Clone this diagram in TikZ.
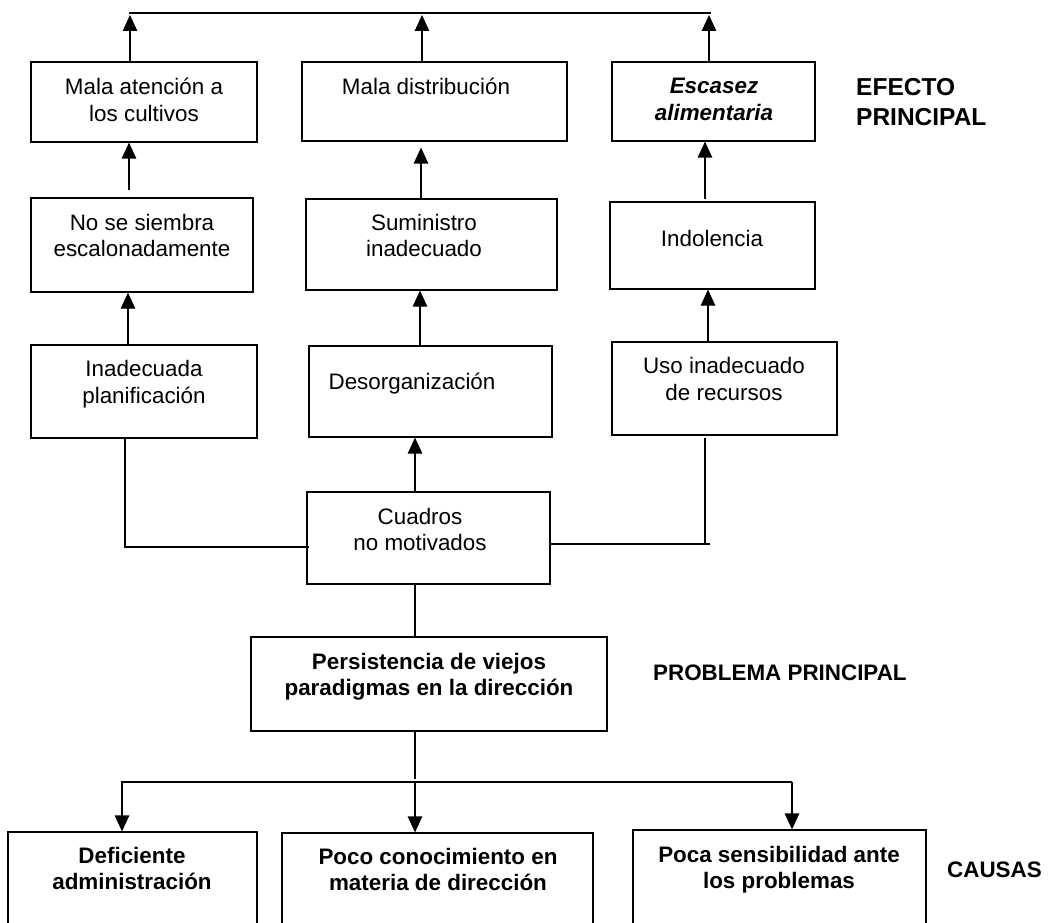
\documentclass[tikz,border=0pt]{standalone}
\usepackage{fontspec}
\setmainfont{Liberation Sans}
\usetikzlibrary{arrows.meta}
\begin{document}
\begin{tikzpicture}[x=1pt,y=-1pt,
  box/.style={draw, line width=1.2pt, rectangle, inner sep=0pt},
  txt/.style={anchor=north, align=center, inner sep=0pt, font=\fontsize{22.4}{26.5}\selectfont},
  lbl/.style={inner sep=0pt, font=\fontsize{22.4}{26.5}\selectfont\bfseries},
  conn/.style={line width=1.2pt},
  arr/.style={conn, -{Triangle[width=14.5pt,length=16pt]}}
]
\clip (0,0) rectangle (1063,923);
\useasboundingbox (0,0) rectangle (1063,923);

% boxes
\node[box, minimum width=226pt, minimum height=80pt] (A1) at (144,102) {};
\node[box, minimum width=222pt, minimum height=94pt] (A2) at (142,245) {};
\node[box, minimum width=226pt, minimum height=93pt] (A3) at (144,391.5) {};
\node[box, minimum width=265pt, minimum height=79pt] (B1) at (434.5,101.5) {};
\node[box, minimum width=251pt, minimum height=91pt] (B2) at (431.5,244.5) {};
\node[box, minimum width=243pt, minimum height=91pt] (B3) at (430.5,391.5) {};
\node[box, minimum width=203pt, minimum height=79pt] (C1) at (713.5,101.5) {};
\node[box, minimum width=205pt, minimum height=87pt] (C2) at (712.5,245.5) {};
\node[box, minimum width=225pt, minimum height=93pt] (C3) at (724.5,388.5) {};
\node[box, minimum width=243pt, minimum height=92pt] (D) at (428.5,538) {};
\node[box, minimum width=356pt, minimum height=94pt] (P) at (429,684) {};
\node[box, minimum width=249pt, minimum height=130pt] (E1) at (132.5,897) {};
\node[box, minimum width=311pt, minimum height=130pt] (E2) at (437.5,898) {};
\node[box, minimum width=293pt, minimum height=130pt] (E3) at (779.5,895) {};

% texts
\node[txt] (tA1) at (144,75.8) {\strut Mala atención a\\los cultivos};
\node[txt] (tA2) at (142,211.5) {\strut No se siembra\\escalonadamente};
\node[txt] (tA3) at (144,358.2) {\strut Inadecuada\\planificación};
\node[txt] (tB1) at (426,75.8) {\strut Mala distribución};
\node[txt] (tB2) at (424,211.5) {\strut Suministro\\inadecuado};
\node[txt] (tB3) at (412,370.8) {\strut Desorganización};
\node[txt, font=\fontsize{22.4}{26.5}\selectfont\bfseries\itshape] (tC1) at (714,74.8) {\strut Escasez\\alimentaria};
\node[txt] (tC2) at (712,227.5) {\strut Indolencia};
\node[txt] (tC3) at (724,354.8) {\strut Uso inadecuado\\de recursos};
\node[txt] (tD) at (420,505.5) {\strut Cuadros\\no motivados};
\node[txt, font=\fontsize{22.4}{26.5}\selectfont\bfseries] (tP) at (429,650.5) {\strut Persistencia de viejos\\paradigmas en la dirección};
\node[txt, font=\fontsize{22.4}{26.5}\selectfont\bfseries] (tE1) at (132,844.5) {\strut Deficiente\\administración};
\node[txt, font=\fontsize{22.4}{26.5}\selectfont\bfseries] (tE2) at (438,845.5) {\strut Poco conocimiento en\\materia de dirección};
\node[txt, font=\fontsize{22.4}{26.5}\selectfont\bfseries] (tE3) at (779,843.5) {\strut Poca sensibilidad ante\\los problemas};

% side labels
\node[anchor=north west, align=left, inner sep=0pt, font=\fontsize{24.5}{30.5}\selectfont\bfseries] (lEf) at (856,73.65) {\strut EFECTO\\PRINCIPAL};
\node[lbl, anchor=base west] (lPr) at (653,680) {PROBLEMA PRINCIPAL};
\node[lbl, anchor=base west] (lCa) at (947,877) {CAUSAS};

% top line and arrows up to it
\coordinate (TL) at (129,13);
\coordinate (TR) at (711,13);
\coordinate (t1) at (130,13);
\coordinate (t2) at (422,13);
\coordinate (t3) at (709,13);
\draw[conn] (TL) -- (TR);
\draw[arr, shorten >=2pt] (A1.north -| t1) -- (t1);
\draw[arr, shorten >=2pt] (B1.north -| t2) -- (t2);
\draw[arr, shorten >=2pt] (C1.north -| t3) -- (t3);

% vertical chains
\draw[arr, shorten <=7pt] ([xshift=-13pt]A2.north) -- ([xshift=-15pt]A1.south);
\draw[arr] ([xshift=-16pt]A3.north) -- ([xshift=-14pt]A2.south);
\draw[arr, shorten >=6pt] ([xshift=-10.5pt]B2.north) -- ([xshift=-13.5pt]B1.south);
\draw[arr] ([xshift=-10.5pt]B3.north) -- ([xshift=-11.5pt]B2.south);
\draw[arr, shorten <=2pt] ([xshift=-7.5pt]C2.north) -- ([xshift=-8.5pt]C1.south);
\draw[arr] ([xshift=-16.5pt]C3.north) -- ([xshift=-4.5pt]C2.south);
\draw[arr] ([xshift=-13.5pt]D.north) -- ([xshift=-15.5pt]B3.south);

% elbows into Cuadros no motivados
\draw[conn] ([xshift=-19pt]A3.south) |- ([yshift=-9pt,xshift=3pt]D.west);
\coordinate (cr) at (710,544);
\draw[conn] ([xshift=-19.5pt,yshift=-2pt]C3.south) |- (cr);
\draw[conn] (cr) -- ([yshift=-6pt]D.east);

% down to problem and causes
\draw[conn] ([xshift=-13.5pt]D.south) -- ([xshift=-14pt]P.north);
\coordinate (hl) at (121,782);
\coordinate (hm) at (415,782);
\coordinate (hr) at (792,782);
\draw[conn] ([xshift=-14pt]P.south) -- ([yshift=3pt]hm);
\draw[conn] (hl) -- (hr);
\draw[arr] ([xshift=1pt]hl) -- ([xshift=-10.5pt]E1.north);
\draw[arr] (hm) -- ([xshift=-22.5pt]E2.north);
\draw[arr] (hr) -- ([xshift=12.5pt]E3.north);
\end{tikzpicture}
\end{document}
